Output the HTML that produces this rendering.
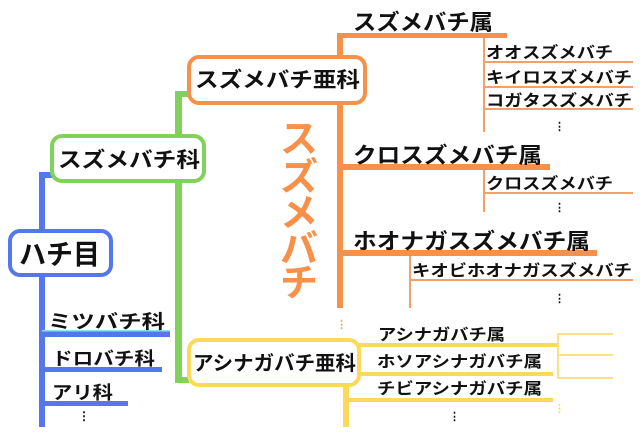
<!DOCTYPE html>
<html><head><meta charset="utf-8"><style>
html,body{margin:0;padding:0;background:#fff}
svg text{font-family:"Liberation Sans","Noto Sans CJK JP",sans-serif;font-weight:bold;fill:#111}
</style></head><body>
<svg width="640" height="427" viewBox="0 0 640 427" xmlns="http://www.w3.org/2000/svg">
<!-- blue -->
<g fill="#5577ee">
<rect x="39" y="172" width="6" height="255"/>
<rect x="39" y="172" width="14" height="6"/>
<rect x="42" y="331" width="128" height="6"/>
<rect x="42" y="367" width="120" height="5"/>
<rect x="42" y="401" width="86" height="5"/>
</g>
<rect x="42" y="330" width="128" height="1.5" fill="#8fe0f0"/>
<rect x="10" y="231" width="101" height="44" rx="10" fill="#fff" stroke="#5577ee" stroke-width="4"/>
<text x="19" y="264" font-size="28" textLength="81" lengthAdjust="spacingAndGlyphs">ハチ目</text>
<text x="48" y="328" font-size="19" textLength="117" lengthAdjust="spacingAndGlyphs">ミツバチ科</text>
<text x="52" y="365" font-size="18" textLength="103" lengthAdjust="spacingAndGlyphs">ドロバチ科</text>
<text x="52" y="399" font-size="18" textLength="61" lengthAdjust="spacingAndGlyphs">アリ科</text>
<text x="78" y="420" font-size="12">⋮</text>
<!-- green -->
<g fill="#80d25a">
<rect x="175" y="91" width="7" height="292"/>
<rect x="175" y="91" width="14" height="6"/>
<rect x="175" y="377" width="14" height="6"/>
</g>
<rect x="52" y="136" width="152" height="45" rx="10" fill="#fff" stroke="#80d25a" stroke-width="4"/>
<text x="58" y="167" font-size="21" textLength="142" lengthAdjust="spacingAndGlyphs">スズメバチ科</text>
<!-- orange -->
<g fill="#f79049">
<rect x="337" y="33" width="6" height="275"/>
<rect x="337" y="33" width="170" height="5"/>
<rect x="337" y="164" width="213" height="6"/>
<rect x="337" y="250" width="260" height="6"/>
</g>
<g fill="#f4a06a">
<rect x="483" y="38" width="2" height="94"/>
<rect x="483" y="61" width="150" height="2"/>
<rect x="483" y="86" width="150" height="2"/>
<rect x="483" y="108" width="150" height="2"/>
<rect x="483" y="170" width="2" height="42"/>
<rect x="483" y="192" width="150" height="2"/>
<rect x="409" y="256" width="2" height="52"/>
<rect x="409" y="279" width="224" height="2"/>
</g>
<rect x="189" y="57" width="176" height="46" rx="10" fill="#fff" stroke="#f79049" stroke-width="4"/>
<text x="195" y="87" font-size="21" textLength="165" lengthAdjust="spacingAndGlyphs">スズメバチ亜科</text>
<text x="353" y="30" font-size="22" textLength="140" lengthAdjust="spacingAndGlyphs">スズメバチ属</text>
<text x="353" y="163" font-size="22" textLength="189" lengthAdjust="spacingAndGlyphs">クロスズメバチ属</text>
<text x="353" y="249" font-size="22" textLength="237" lengthAdjust="spacingAndGlyphs">ホオナガスズメバチ属</text>
<text x="486" y="58" font-size="16" textLength="127" lengthAdjust="spacingAndGlyphs">オオスズメバチ</text>
<text x="486" y="83" font-size="16" textLength="146" lengthAdjust="spacingAndGlyphs">キイロスズメバチ</text>
<text x="486" y="106" font-size="16" textLength="146" lengthAdjust="spacingAndGlyphs">コガタスズメバチ</text>
<text x="486" y="189" font-size="16" textLength="127" lengthAdjust="spacingAndGlyphs">クロスズメバチ</text>
<text x="412" y="276" font-size="16" textLength="220" lengthAdjust="spacingAndGlyphs">キオビホオナガスズメバチ</text>
<text x="554" y="130" font-size="11">⋮</text>
<text x="554" y="211" font-size="11">⋮</text>
<text x="554" y="302" font-size="11">⋮</text>
<text x="336" y="328" font-size="11" style="fill:#f4a06a">⋮</text>
<g font-size="38">
<text x="280" y="152" style="fill:#f79049">ス</text>
<text x="280" y="190" style="fill:#f79049">ズ</text>
<text x="280" y="226" style="fill:#f79049">メ</text>
<text x="280" y="262" style="fill:#f79049">バ</text>
<text x="280" y="296" style="fill:#f79049">チ</text>
</g>
<!-- yellow -->
<g fill="#fbd95a">
<rect x="343" y="383" width="6" height="44"/>
<rect x="358" y="343" width="201" height="4"/>
<rect x="358" y="372" width="195" height="4"/>
<rect x="343" y="398" width="210" height="4"/>
</g>
<g fill="#fbe08a">
<rect x="557" y="333" width="2" height="46"/>
<rect x="557" y="333" width="56" height="2"/>
<rect x="557" y="354" width="56" height="2"/>
<rect x="557" y="377" width="56" height="2"/>
</g>
<text x="554" y="412" font-size="11" style="fill:#fbd95a">⋮</text>
<rect x="189" y="340" width="170" height="45" rx="10" fill="#fff" stroke="#fbd95a" stroke-width="4"/>
<text x="193" y="370" font-size="20" textLength="163" lengthAdjust="spacingAndGlyphs">アシナガバチ亜科</text>
<text x="378" y="340" font-size="16" textLength="127" lengthAdjust="spacingAndGlyphs">アシナガバチ属</text>
<text x="377" y="367" font-size="16" textLength="165" lengthAdjust="spacingAndGlyphs">ホソアシナガバチ属</text>
<text x="377" y="394" font-size="16" textLength="165" lengthAdjust="spacingAndGlyphs">チビアシナガバチ属</text>
<text x="449" y="420" font-size="11">⋮</text>
</svg>
</body></html>
